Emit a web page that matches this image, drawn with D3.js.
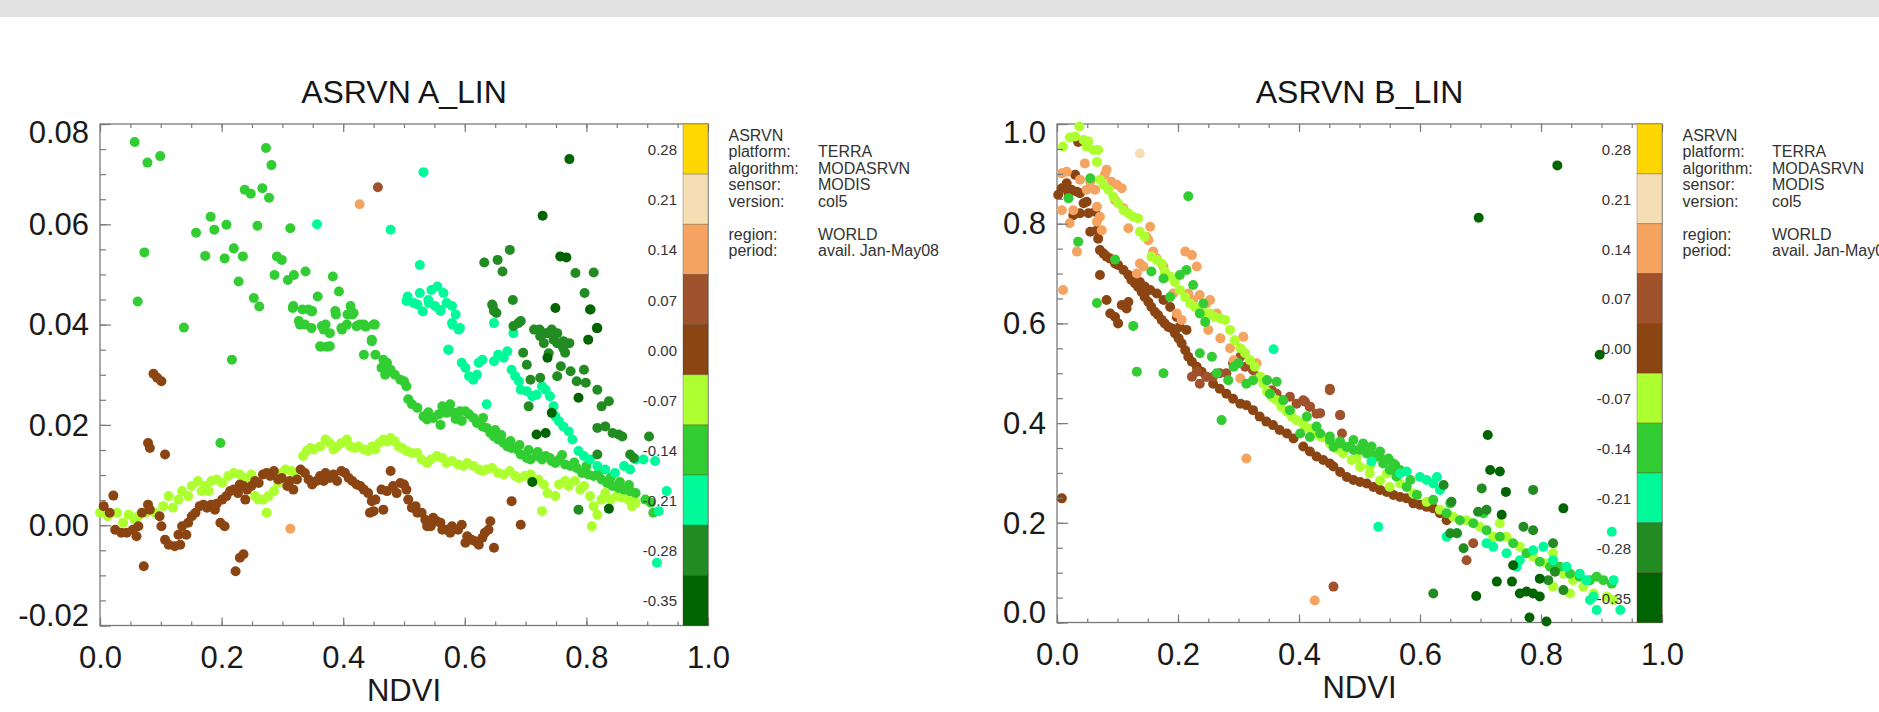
<!DOCTYPE html>
<html><head><meta charset="utf-8">
<script src="https://cdn.jsdelivr.net/npm/d3@7"></script>
<style>body{margin:0;background:#fff;overflow:hidden}svg{display:block}</style>
</head><body><svg id="c" width="1879" height="712"></svg>
<script>
// ---------- shared scales / labels ----------
const levelLabels = ["0.28","0.21","0.14","0.07","0.00","-0.07","-0.14","-0.21","-0.28","-0.35"];
const levelColors = ["#ffd700","#f5deb3","#f4a460","#a0522d","#8b4513","#adff2f","#32cd32","#00fa9a","#228b22","#006400"];
const xTicks = [0, 0.2, 0.4, 0.6, 0.8, 1.0];
const xMinor = d3.range(0, 1.0001, 0.05);
const yTicksA = [-0.02, 0.00, 0.02, 0.04, 0.06, 0.08];
const yMinorA = d3.range(-0.02, 0.08001, 0.005);
const yTicksB = [0.0, 0.2, 0.4, 0.6, 0.8, 1.0];
const yMinorB = d3.range(0, 1.0001, 0.05);
const legendHead = "ASRVN";
const legendKeys = ["platform:", "algorithm:", "sensor:", "version:", "", "region:", "period:"];
const legendVals = ["TERRA", "MODASRVN", "MODIS", "col5", "", "WORLD", "avail. Jan-May08"];

// ---------- panel A (ASRVN A_LIN) : [NDVI, value] per colour class ----------
const A_m014 = [ // lime green
[.057,.0764],[.078,.0723],[.099,.0736],[.273,.0752],[.282,.0718],[.238,.0669],[.248,.0661],[.267,.0672],[.278,.0653],
[.182,.0615],[.188,.0589],[.208,.0599],[.158,.0583],[.259,.0597],[.313,.0592],[.073,.0544],[.062,.0446],[.138,.0394],
[.173,.0537],[.205,.0532],[.220,.0552],[.235,.0536],[.228,.0486],[.253,.0453],[.262,.0436],[.291,.0536],[.299,.0529],
[.287,.0499],[.309,.0489],[.319,.0499],[.338,.0506],[.317,.0433],[.333,.0430],[.348,.0426],[.358,.0456],[.383,.0496],
[.393,.0466],[.407,.0420],[.388,.0420],[.417,.0423],[.329,.0400],[.348,.0393],[.368,.0390],[.398,.0390],[.427,.0400],
[.437,.0396],[.452,.0400],[.373,.0356],[.363,.0356],[.447,.0370],[.217,.0330],[.198,.0164],
[.318,.0437],[.327,.0407],[.337,.0400],[.343,.0430],[.349,.0427],[.365,.0397],[.371,.0400],[.378,.0383],[.387,.0427],
[.397,.0393],[.406,.0400],[.412,.0437],[.415,.0420],[.422,.0397],[.434,.0400],[.450,.0400],[.362,.0357],[.378,.0357],
[.447,.0367],[.434,.0340],[.453,.0340],[.466,.0330],[.472,.0324],[.463,.0314],[.478,.0310],[.469,.0300],[.485,.0300],
[.494,.0290],[.500,.0287],[.504,.0277],[.507,.0251],[.513,.0241],[.522,.0234],[.532,.0217],[.538,.0211],[.548,.0214],
[.557,.0221],[.563,.0237],[.570,.0224],[.576,.0241],[.582,.0224],[.592,.0227],[.601,.0227],[.607,.0221],[.614,.0214],
[.620,.0204],[.629,.0197],[.636,.0194],[.642,.0184],[.648,.0177],[.655,.0171],[.664,.0164],[.670,.0157],[.677,.0154],
[.686,.0151],[.692,.0141],[.702,.0134],[.708,.0131],[.718,.0138],[.727,.0131],[.733,.0138],[.743,.0128],[.749,.0124],
[.755,.0131],[.765,.0121],[.774,.0118],[.784,.0114],[.793,.0104],[.803,.0101],[.812,.0098],[.825,.0091],[.834,.0084],
[.843,.0078],[.853,.0074],[.862,.0071],[.872,.0068],[.881,.0064],[.897,.0051],[.906,.0045],[.910,.0025],
[.630,.0214],[.660,.0180],[.690,.0160],[.720,.0146],[.760,.0140],[.800,.0118],[.840,.0095],[.870,.0080],[.560,.0200],[.595,.0208],
[.540,.0225],[.585,.0212],[.650,.0190],[.675,.0168],[.705,.0150],[.740,.0134],[.780,.0125],[.820,.0104],[.855,.0086]
];
const A_m007 = [ // green-yellow
[.000,.0025],[.013,.0018],[.028,.0025],[.038,.0005],[.047,.0021],[.057,.0011],[.063,.0018],[.076,.0025],[.091,.0025],
[.104,.0038],[.113,.0058],[.120,.0035],[.129,.0051],[.135,.0068],[.145,.0058],[.151,.0078],[.161,.0088],[.167,.0068],
[.173,.0078],[.179,.0068],[.183,.0088],[.192,.0091],[.201,.0084],[.211,.0098],[.220,.0104],[.230,.0101],[.239,.0094],
[.249,.0101],[.255,.0058],[.261,.0051],[.268,.0051],[.277,.0058],[.274,.0025],[.286,.0068],[.293,.0084],[.299,.0104],
[.305,.0111],[.315,.0108],[.321,.0104],[.334,.0138],[.340,.0148],[.346,.0154],[.352,.0151],[.362,.0157],[.371,.0171],
[.378,.0164],[.384,.0151],[.390,.0157],[.397,.0164],[.406,.0171],[.412,.0157],[.419,.0154],[.425,.0157],[.434,.0151],
[.441,.0148],[.447,.0157],[.453,.0151],[.459,.0164],[.466,.0171],[.472,.0167],[.478,.0174],[.485,.0167],[.491,.0157],
[.497,.0154],[.504,.0148],[.513,.0144],[.522,.0144],[.529,.0131],[.538,.0124],[.544,.0131],[.554,.0138],[.563,.0134],
[.570,.0124],[.579,.0128],[.589,.0121],[.598,.0118],[.604,.0124],[.614,.0118],[.623,.0111],[.629,.0108],[.636,.0111],
[.645,.0114],[.655,.0104],[.664,.0101],[.674,.0108],[.683,.0098],[.689,.0094],[.699,.0098],[.708,.0101],[.714,.0088],
[.721,.0091],[.730,.0081],[.736,.0064],[.749,.0058],[.755,.0081],[.765,.0088],[.771,.0078],[.781,.0088],[.790,.0071],
[.796,.0078],[.806,.0058],[.812,.0038],[.818,.0021],[.825,.0051],[.831,.0064],[.840,.0051],[.850,.0058],[.859,.0055],
[.869,.0051],[.727,.0028],[.809,-.0002],[.875,.0038],[.881,.0045]
];
const A_m021 = [ // spring green
[.357,.0600],[.478,.0589],[.532,.0704],[.526,.0519],[.506,.0456],[.516,.0443],[.526,.0463],[.531,.0426],[.540,.0449],
[.545,.0469],[.555,.0476],[.565,.0463],[.570,.0443],[.560,.0429],[.585,.0420],[.580,.0400],[.590,.0390],[.573,.0350],
[.504,.0447],[.522,.0440],[.541,.0443],[.551,.0437],[.560,.0427],[.579,.0437],[.573,.0350],[.579,.0403],[.592,.0393],
[.595,.0324],[.601,.0314],[.607,.0297],[.614,.0290],[.620,.0300],[.623,.0324],[.629,.0330],[.648,.0327],[.655,.0340],
[.664,.0334],[.670,.0347],[.677,.0310],[.683,.0297],[.689,.0287],[.692,.0270],[.702,.0267],[.711,.0257],[.718,.0260],
[.727,.0277],[.733,.0270],[.740,.0257],[.746,.0237],[.749,.0217],[.755,.0207],[.762,.0197],[.771,.0187],[.777,.0171],
[.787,.0148],[.796,.0138],[.806,.0131],[.818,.0118],[.831,.0111],[.847,.0104],[.862,.0118],[.872,.0111],[.881,.0131],
[.894,.0131],[.913,.0128],[.932,.0068],[.919,.0028],[.916,-.0075],[.636,.0241],[.648,.0403],[.680,.0383]
];
const A_m028 = [ // forest green
[.632,.0524],[.654,.0529],[.674,.0549],[.662,.0506],[.679,.0449],[.646,.0437],[.652,.0423],[.688,.0403],[.782,.0503],
[.812,.0504],[.807,.0430],[.817,.0393],[.797,.0463],[.723,.0390],[.733,.0383],[.743,.0390],[.752,.0363],[.762,.0353],
[.738,.0343],[.772,.0363],[.645,.0440],[.648,.0427],[.680,.0397],[.692,.0407],[.714,.0390],[.724,.0377],[.730,.0363],
[.736,.0383],[.746,.0370],[.752,.0383],[.762,.0367],[.765,.0344],[.696,.0344],[.702,.0320],[.708,.0290],[.724,.0294],
[.752,.0297],[.758,.0317],[.774,.0307],[.784,.0287],[.796,.0310],[.799,.0284],[.818,.0270],[.825,.0237],[.837,.0247],
[.818,.0194],[.831,.0197],[.843,.0184],[.853,.0181],[.859,.0177],[.818,.0141],[.872,.0141],[.878,.0134],[.903,.0177],
[.787,.0031],[.705,.0237]
];
const A_m035 = [ // dark green
[.772,.0730],[.728,.0617],[.757,.0536],[.767,.0534],[.749,.0433],[.806,.0430],[.818,.0393],[.803,.0370],[.736,.0334],
[.787,.0254],[.743,.0224],[.718,.0181],[.733,.0184],[.837,.0033],[.711,.0086]
];
const A_p000 = [ // saddle brown
[.006,.0038],[.022,.0059],[.016,.0025],[.025,-.0009],[.035,-.0015],[.044,-.0015],[.054,-.0009],[.060,-.0022],[.063,-.0002],
[.069,.0025],[.079,.0041],[.082,.0031],[.072,-.0082],[.088,.0302],[.094,.0294],[.101,.0287],[.079,.0164],[.082,.0154],
[.107,.0141],[.098,.0018],[.101,-.0002],[.107,-.0029],[.113,-.0039],[.123,-.0042],[.132,-.0039],[.129,-.0019],[.142,-.0019],
[.135,-.0002],[.145,.0005],[.151,.0018],[.157,.0025],[.164,.0038],[.170,.0041],[.176,.0035],[.183,.0041],[.189,.0031],
[.192,.0043],[.198,.0005],[.205,-.0002],[.201,.0051],[.208,.0058],[.214,.0068],[.220,.0071],[.227,.0064],[.230,.0081],
[.236,.0078],[.239,.0051],[.242,.0071],[.249,.0078],[.255,.0088],[.261,.0084],[.268,.0101],[.274,.0104],[.280,.0098],
[.286,.0108],[.293,.0091],[.299,.0094],[.308,.0078],[.312,.0088],[.318,.0071],[.324,.0091],[.330,.0111],[.337,.0104],
[.343,.0091],[.349,.0081],[.356,.0088],[.362,.0098],[.368,.0088],[.371,.0104],[.378,.0094],[.384,.0101],[.390,.0088],
[.397,.0108],[.403,.0104],[.409,.0094],[.415,.0088],[.422,.0081],[.428,.0078],[.434,.0071],[.441,.0064],[.447,.0048],
[.453,.0051],[.444,.0025],[.450,.0028],[.466,.0031],[.463,.0071],[.472,.0068],[.478,.0108],[.482,.0078],[.488,.0064],
[.494,.0084],[.500,.0081],[.504,.0071],[.507,.0051],[.513,.0035],[.519,.0038],[.522,.0025],[.529,.0025],[.535,.0011],
[.538,-.0002],[.544,-.0002],[.548,.0015],[.554,.0008],[.560,.0005],[.563,-.0009],[.570,-.0009],[.576,-.0015],[.579,-.0002],
[.589,-.0009],[.595,.0001],[.601,-.0035],[.604,-.0022],[.611,-.0029],[.617,-.0032],[.623,-.0039],[.629,-.0025],[.633,-.0015],
[.639,-.0009],[.642,.0008],[.648,-.0045],[.677,.0048],[.692,.0001],[.223,-.0092],[.230,-.0065],[.236,-.0058]
];
const A_p007 = [[.457,.0674]]; // sienna
const A_p014 = [[.427,.0640],[.313,-.0007]]; // sandy brown

// ---------- panel B (ASRVN B_LIN) ----------
const B_m007 = [
[.010,.955],[.021,.973],[.030,.975],[.037,.995],[.044,.968],[.052,.965],[.060,.948],[.068,.948],[.049,.955],[.066,.924],
[.071,.888],[.077,.878],[.085,.868],[.093,.854],[.101,.841],[.110,.827],[.118,.821],[.126,.814],[.134,.811],[.137,.784],
[.145,.774],[.156,.734],[.165,.727],[.173,.720],[.178,.704],[.187,.694],[.195,.683],[.203,.667],[.212,.653],[.220,.640],
[.228,.633],[.236,.627],[.245,.620],[.253,.620],[.261,.613],[.270,.610],[.278,.607],[.286,.587],[.294,.566],[.303,.550],
[.311,.540],[.319,.526],[.327,.513],[.336,.493],[.341,.479],[.347,.463],[.355,.453],[.363,.446],[.371,.433],[.380,.423],
[.388,.413],[.396,.406],[.407,.399],[.418,.389],[.429,.379],[.440,.372],[.451,.359],[.462,.349],[.473,.339],[.487,.326],
[.501,.312],[.517,.299],[.534,.285],[.550,.272],[.410,.393],[.435,.373],[.457,.359],[.473,.346],[.495,.329],[.517,.313],
[.545,.299],[.567,.279],[.589,.259],[.611,.242],[.633,.226],[.655,.212],[.677,.205],[.699,.192],[.721,.172],[.732,.199],
[.743,.172],[.765,.152],[.787,.132],[.809,.119],[.820,.139],[.837,.098],[.853,.085],[.870,.072],[.887,.058],[.909,.052],
[.920,.045],[.848,.058],[.820,.072]
];
const B_m014 = [
[.019,.851],[.055,.891],[.035,.764],[.066,.641],[.096,.728],[.126,.595],[.132,.503],[.176,.500],[.217,.855],[.156,.704],
[.176,.690],[.187,.653],[.203,.697],[.214,.707],[.225,.677],[.236,.620],[.245,.603],[.236,.540],[.256,.533],[.272,.406],
[.242,.640],[.264,.500],[.283,.486],[.292,.513],[.300,.520],[.313,.479],[.324,.486],[.347,.486],[.363,.483],[.352,.459],
[.374,.446],[.385,.426],[.402,.379],[.418,.372],[.435,.379],[.451,.366],[.457,.352],[.468,.359],[.479,.352],[.490,.346],
[.501,.346],[.512,.339],[.523,.336],[.534,.332],[.545,.326],[.556,.319],[.561,.299],[.413,.413],[.429,.393],[.451,.373],
[.468,.363],[.484,.353],[.501,.349],[.512,.346],[.528,.333],[.539,.319],[.550,.306],[.561,.293],[.578,.272],[.595,.256],
[.622,.246],[.644,.219],[.666,.205],[.688,.199],[.710,.185],[.732,.172],[.754,.159],[.776,.139],[.798,.122],[.815,.112],
[.831,.112],[.848,.098],[.864,.092],[.881,.085],[.892,.092],[.903,.085],[.917,.078],[.705,.219],[.650,.239],
[.490,.366],[.506,.359],[.520,.353],[.534,.343],[.548,.329],[.559,.316],[.567,.306],[.584,.286]
];
const B_m021 = [
[.358,.548],[.531,.192],[.917,.182],[.600,.292],[.611,.286],[.622,.279],[.633,.266],[.628,.292],[.567,.299],[.578,.303],
[.520,.323],[.644,.172],[.661,.179],[.710,.159],[.721,.152],[.743,.139],[.765,.125],[.787,.145],[.804,.152],[.820,.125],
[.842,.112],[.864,.098],[.875,.085],[.887,.052],[.892,.025],[.920,.085],[.931,.025],[.881,.045],[.760,.112]
];
const B_m028 = [
[.639,.276],[.652,.242],[.702,.269],[.787,.266],[.696,.222],[.710,.226],[.650,.179],[.661,.179],[.672,.149],[.771,.192],
[.787,.185],[.820,.159],[.622,.058],[.837,.065],[.812,.085],[.823,.102]
];
const B_m035 = [
[.827,.917],[.697,.812],[.897,.537],[.712,.376],[.716,.306],[.732,.303],[.742,.262],[.837,.229],[.735,.216],[.693,.053],
[.727,.082],[.752,.082],[.765,.058],[.776,.062],[.787,.058],[.798,.052],[.809,.002],[.781,.010],[.754,.115],[.798,.088]
];
const B_p000 = [
[.002,.858],[.008,.871],[.016,.881],[.019,.861],[.024,.868],[.030,.898],[.035,.964],[.033,.864],[.027,.817],[.038,.821],
[.044,.841],[.049,.844],[.038,.861],[.052,.821],[.055,.784],[.063,.824],[.066,.787],[.068,.770],[.071,.747],[.077,.740],
[.082,.734],[.088,.730],[.096,.720],[.101,.717],[.110,.707],[.118,.697],[.123,.687],[.129,.680],[.134,.673],[.140,.663],
[.145,.653],[.151,.643],[.156,.633],[.162,.623],[.167,.617],[.173,.607],[.178,.600],[.184,.593],[.190,.590],[.195,.580],
[.201,.570],[.206,.560],[.212,.546],[.217,.533],[.223,.523],[.231,.513],[.239,.503],[.247,.493],[.258,.479],[.269,.469],
[.280,.459],[.291,.449],[.303,.439],[.313,.436],[.324,.426],[.335,.413],[.346,.403],[.357,.396],[.368,.386],[.380,.379],
[.391,.369],[.071,.697],[.082,.647],[.088,.620],[.096,.613],[.101,.600],[.107,.637],[.118,.643],[.115,.630],[.129,.690],
[.137,.683],[.145,.674],[.154,.667],[.165,.660],[.176,.647],[.187,.633],[.198,.613],[.203,.593],[.214,.587],[.008,.249],
[.407,.353],[.418,.343],[.429,.333],[.440,.326],[.451,.319],[.457,.313],[.468,.302],[.479,.292],[.490,.286],[.501,.282],
[.512,.279],[.523,.272],[.534,.266],[.545,.262],[.556,.256],[.567,.252],[.578,.249],[.589,.239],[.600,.236],[.611,.232],
[.622,.229],[.633,.219],[.644,.205]
];
const B_p007 = [
[.223,.493],[.231,.503],[.236,.479],[.247,.493],[.258,.493],[.269,.500],[.280,.500],[.291,.520],[.303,.533],[.311,.513],
[.324,.506],[.335,.493],[.347,.486],[.355,.466],[.363,.459],[.374,.446],[.385,.453],[.396,.439],[.410,.443],[.418,.433],
[.429,.419],[.451,.469],[.468,.416],[.407,.446],[.418,.433],[.435,.420],[.451,.466],[.468,.416],[.471,.379],[.688,.159],
[.677,.125],[.457,.072]
];
const B_p014 = [
[.008,.901],[.016,.904],[.010,.667],[.008,.827],[.027,.827],[.033,.744],[.021,.801],[.038,.888],[.046,.921],[.049,.868],
[.055,.884],[.063,.868],[.066,.834],[.071,.814],[.066,.804],[.074,.787],[.082,.908],[.079,.898],[.090,.884],[.099,.878],
[.107,.871],[.096,.847],[.110,.831],[.118,.791],[.132,.700],[.137,.720],[.148,.774],[.151,.767],[.154,.794],[.143,.714],
[.159,.744],[.165,.730],[.176,.714],[.181,.694],[.192,.660],[.198,.620],[.206,.607],[.212,.744],[.223,.737],[.231,.714],
[.217,.660],[.225,.647],[.236,.657],[.247,.640],[.253,.647],[.264,.620],[.250,.587],[.270,.570],[.286,.550],[.308,.573],
[.292,.526],[.303,.490],[.330,.520],[.313,.329],[.426,.044]
];
const B_p021 = [[.137,.941]];

// ---------- drawing ----------
const svg = d3.select("#c");
const FONT = "'Liberation Sans', Arial, Helvetica, sans-serif";
const color = d3.scaleOrdinal().domain(levelLabels).range(levelColors);
const hyphen = f => (v => f(v).replace("\u2212", "-"));
svg.append("rect").attr("x",0).attr("y",0).attr("width",1879).attr("height",17).attr("fill","#e1e1e1");

function panel(o) {
  const x = d3.scaleLinear().domain([0, 1]).range([o.left, o.right]);
  const y = d3.scaleLinear().domain(o.yDomain).range([o.bottom, o.top]);
  const g = svg.append("g");

  g.append("text").attr("x", (o.left + o.right) / 2).attr("y", 103)
    .attr("text-anchor", "middle").attr("font-family", FONT).attr("font-size", 32)
    .attr("fill", "#151515").text(o.title);

  // frame
  g.append("rect").attr("x", o.left).attr("y", o.top)
    .attr("width", o.right - o.left).attr("height", o.bottom - o.top)
    .attr("fill", "none").attr("stroke", "#7a7a7a").attr("stroke-width", 1.3);

  // points
  o.groups.forEach(gr => {
    g.append("g").selectAll("circle").data(gr.data).join("circle")
      .attr("cx", d => x(d[0])).attr("cy", d => y(d[1])).attr("r", 5)
      .attr("fill", color(gr.level));
  });

  const styleAxis = (sel) => {
    sel.select(".domain").remove();
    sel.selectAll("line").attr("stroke", "#7a7a7a").attr("stroke-width", 1.2);
    sel.attr("font-family", FONT).attr("font-size", 31);
    sel.selectAll("text").attr("fill", "#1a1a1a");
  };

  // x axes
  g.append("g").attr("transform", `translate(0,${o.bottom})`)
    .call(d3.axisBottom(x).tickValues(xMinor).tickSize(-4).tickFormat("")).call(styleAxis);
  g.append("g").attr("transform", `translate(0,${o.bottom})`)
    .call(d3.axisBottom(x).tickValues(xTicks).tickSize(-8).tickPadding(20).tickFormat(hyphen(d3.format(".1f"))))
    .call(styleAxis);
  g.append("g").attr("transform", `translate(0,${o.top})`)
    .call(d3.axisTop(x).tickValues(xMinor).tickSize(-4).tickFormat("")).call(styleAxis);
  g.append("g").attr("transform", `translate(0,${o.top})`)
    .call(d3.axisTop(x).tickValues(xTicks).tickSize(-8).tickFormat("")).call(styleAxis);

  // y axes
  g.append("g").attr("transform", `translate(${o.left},0)`)
    .call(d3.axisLeft(y).tickValues(o.yMinor).tickSize(-6).tickFormat("")).call(styleAxis);
  const ya = g.append("g").attr("transform", `translate(${o.left},0)`)
    .call(d3.axisLeft(y).tickValues(o.yTicks).tickSize(-11).tickPadding(11).tickFormat(hyphen(d3.format(o.yFmt))))
    .call(styleAxis);
  const n = o.yTicks.length;
  ya.selectAll("text").attr("dy", (d, i) => i === 0 ? "0em" : (i === n - 1 ? "0.61em" : "0.33em"));

  // x label
  g.append("text").attr("x", (o.left + o.right) / 2).attr("y", o.bottom + 75)
    .attr("text-anchor", "middle").attr("font-family", FONT).attr("font-size", 31)
    .attr("fill", "#1a1a1a").text("NDVI");

  // colour bar
  const cbL = o.right - 25;
  const band = d3.scaleBand().domain(levelLabels).range([o.top, o.bottom]);
  g.append("g").selectAll("rect").data(levelLabels).join("rect")
    .attr("x", cbL).attr("y", d => band(d)).attr("width", 25).attr("height", band.bandwidth())
    .attr("fill", d => color(d)).attr("stroke", "rgba(70,45,10,0.35)").attr("stroke-width", 0.8);
  const cba = g.append("g").attr("transform", `translate(${cbL},0)`)
    .call(d3.axisLeft(band).tickSize(0).tickPadding(6));
  cba.select(".domain").remove();
  cba.attr("font-family", FONT).attr("font-size", 15);
  cba.selectAll("text").attr("fill", "#333").attr("dy", "0.4em");

  // legend text
  const lx = cbL + 45.5, vx = cbL + 135;
  const lg = g.append("g").attr("font-family", FONT).attr("font-size", 16).attr("fill", "#333");
  lg.append("text").attr("x", lx).attr("y", 140.5).text(legendHead);
  legendKeys.forEach((k, i) => {
    lg.append("text").attr("x", lx).attr("y", 157 + i * 16.5).text(k);
    lg.append("text").attr("x", vx).attr("y", 157 + i * 16.5).text(legendVals[i]);
  });
}

panel({
  title: "ASRVN A_LIN", left: 100, right: 708, top: 124, bottom: 625.5,
  yDomain: [-0.02, 0.08], yTicks: yTicksA, yMinor: yMinorA, yFmt: ".2f",
  groups: [
    {level: "-0.07", data: A_m007}, {level: "-0.14", data: A_m014}, {level: "-0.21", data: A_m021},
    {level: "-0.28", data: A_m028}, {level: "-0.35", data: A_m035}, {level: "0.00", data: A_p000},
    {level: "0.07", data: A_p007}, {level: "0.14", data: A_p014}
  ]
});
panel({
  title: "ASRVN B_LIN", left: 1057, right: 1662, top: 124, bottom: 622.5,
  yDomain: [0, 1], yTicks: yTicksB, yMinor: yMinorB, yFmt: ".1f",
  groups: [
    {level: "0.00", data: B_p000}, {level: "0.07", data: B_p007}, {level: "0.14", data: B_p014},
    {level: "0.21", data: B_p021}, {level: "-0.07", data: B_m007}, {level: "-0.14", data: B_m014},
    {level: "-0.21", data: B_m021}, {level: "-0.28", data: B_m028}, {level: "-0.35", data: B_m035}
  ]
});
</script></body></html>
